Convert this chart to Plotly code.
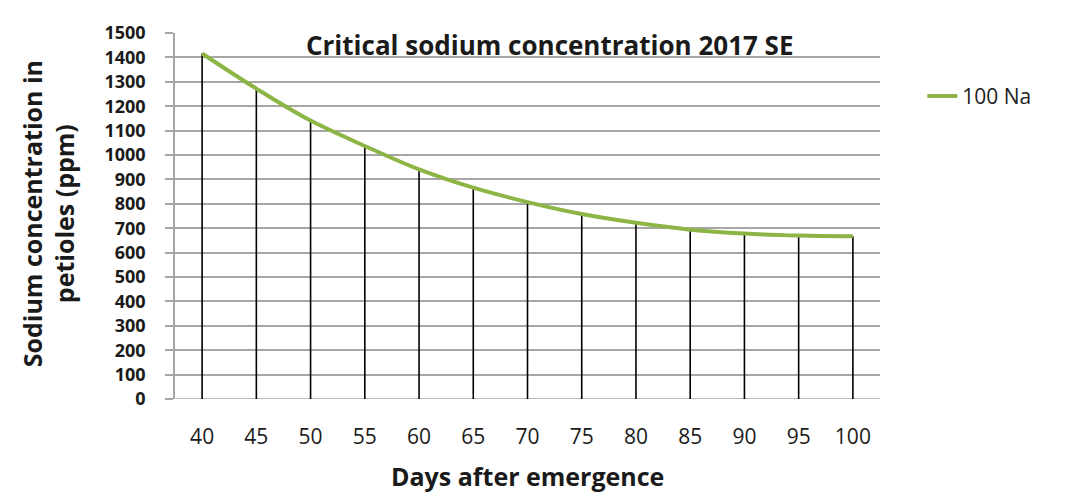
import plotly.graph_objects as go

days = [40, 45, 50, 55, 60, 65, 70, 75, 80, 85, 90, 95, 100]
sodium = [1416, 1272, 1141, 1037, 941, 866, 807, 758, 722, 694, 678, 670, 667]
yticks = list(range(0, 1501, 100))
series_name = "100 Na"
title_text = "Critical sodium concentration 2017 SE"
xtitle = "Days after emergence"
ytitle = "Sodium concentration in<br>petioles (ppm)"

FONT = "Open Sans"
INK = "#1a1a1a"
GRID = "#a6a6a6"

# drop lines from curve to x axis
dx, dy = [], []
for d, v in zip(days, sodium):
    dx += [d, d, None]
    dy += [0, v, None]

fig = go.Figure()
fig.add_trace(go.Scatter(x=dx, y=dy, mode="lines", line=dict(color="black", width=1.6),
                         showlegend=False, hoverinfo="skip"))
fig.add_trace(go.Scatter(x=days, y=sodium, mode="lines", name=series_name,
                         line=dict(color="#8db546", width=4, shape="spline")))

fig.update_layout(
    width=1057, height=488,
    margin=dict(l=167, r=185, t=15, b=97),
    paper_bgcolor="white", plot_bgcolor="white",
    font=dict(family=FONT, color=INK),
    legend=dict(x=1.06, y=0.827, xanchor="left", yanchor="middle",
                font=dict(size=21, family=FONT, color="#222")),
    xaxis=dict(range=[37.5, 102.5], tickvals=days, ticktext=[str(d) for d in days],
               showgrid=False, zeroline=False, showline=False,
               ticks="outside", ticklen=19, tickcolor="rgba(0,0,0,0)",
               tickfont=dict(size=21, family=FONT, color=INK)),
    yaxis=dict(range=[0, 1500], tickvals=yticks, showgrid=True, gridcolor=GRID,
               gridwidth=1.5, zeroline=False, showline=True, linecolor=GRID, linewidth=1.5,
               ticks="outside", ticklen=8, tickcolor=GRID, tickwidth=1.5,
               ticklabelstandoff=16,
               tickfont=dict(size=18, family=FONT, color=INK, weight="bold")),
    annotations=[
        dict(text=f"<b>{title_text}</b>", xref="paper", yref="paper", x=0.532, y=0.968,
             xanchor="center", yanchor="middle", showarrow=False,
             font=dict(size=26, family=FONT, color=INK)),
        dict(text=f"<b>{xtitle}</b>", xref="paper", yref="paper", x=0.5, y=-0.21,
             xanchor="center", yanchor="middle", showarrow=False,
             font=dict(size=25, family=FONT, color=INK)),
        dict(text=f"<b>{ytitle}</b>", xref="paper", yref="paper", x=-0.18, y=0.505,
             xanchor="center", yanchor="middle", showarrow=False, textangle=-90,
             font=dict(size=25, family=FONT, color=INK)),
    ],
)
# x-axis baseline (gray) at y=0, extending slightly left like the y ticks
fig.add_shape(type="line", xref="paper", yref="y", x0=-0.012, x1=1, y0=0, y1=0,
              line=dict(color=GRID, width=1.5), layer="below")

fig.write_html("out.html")
